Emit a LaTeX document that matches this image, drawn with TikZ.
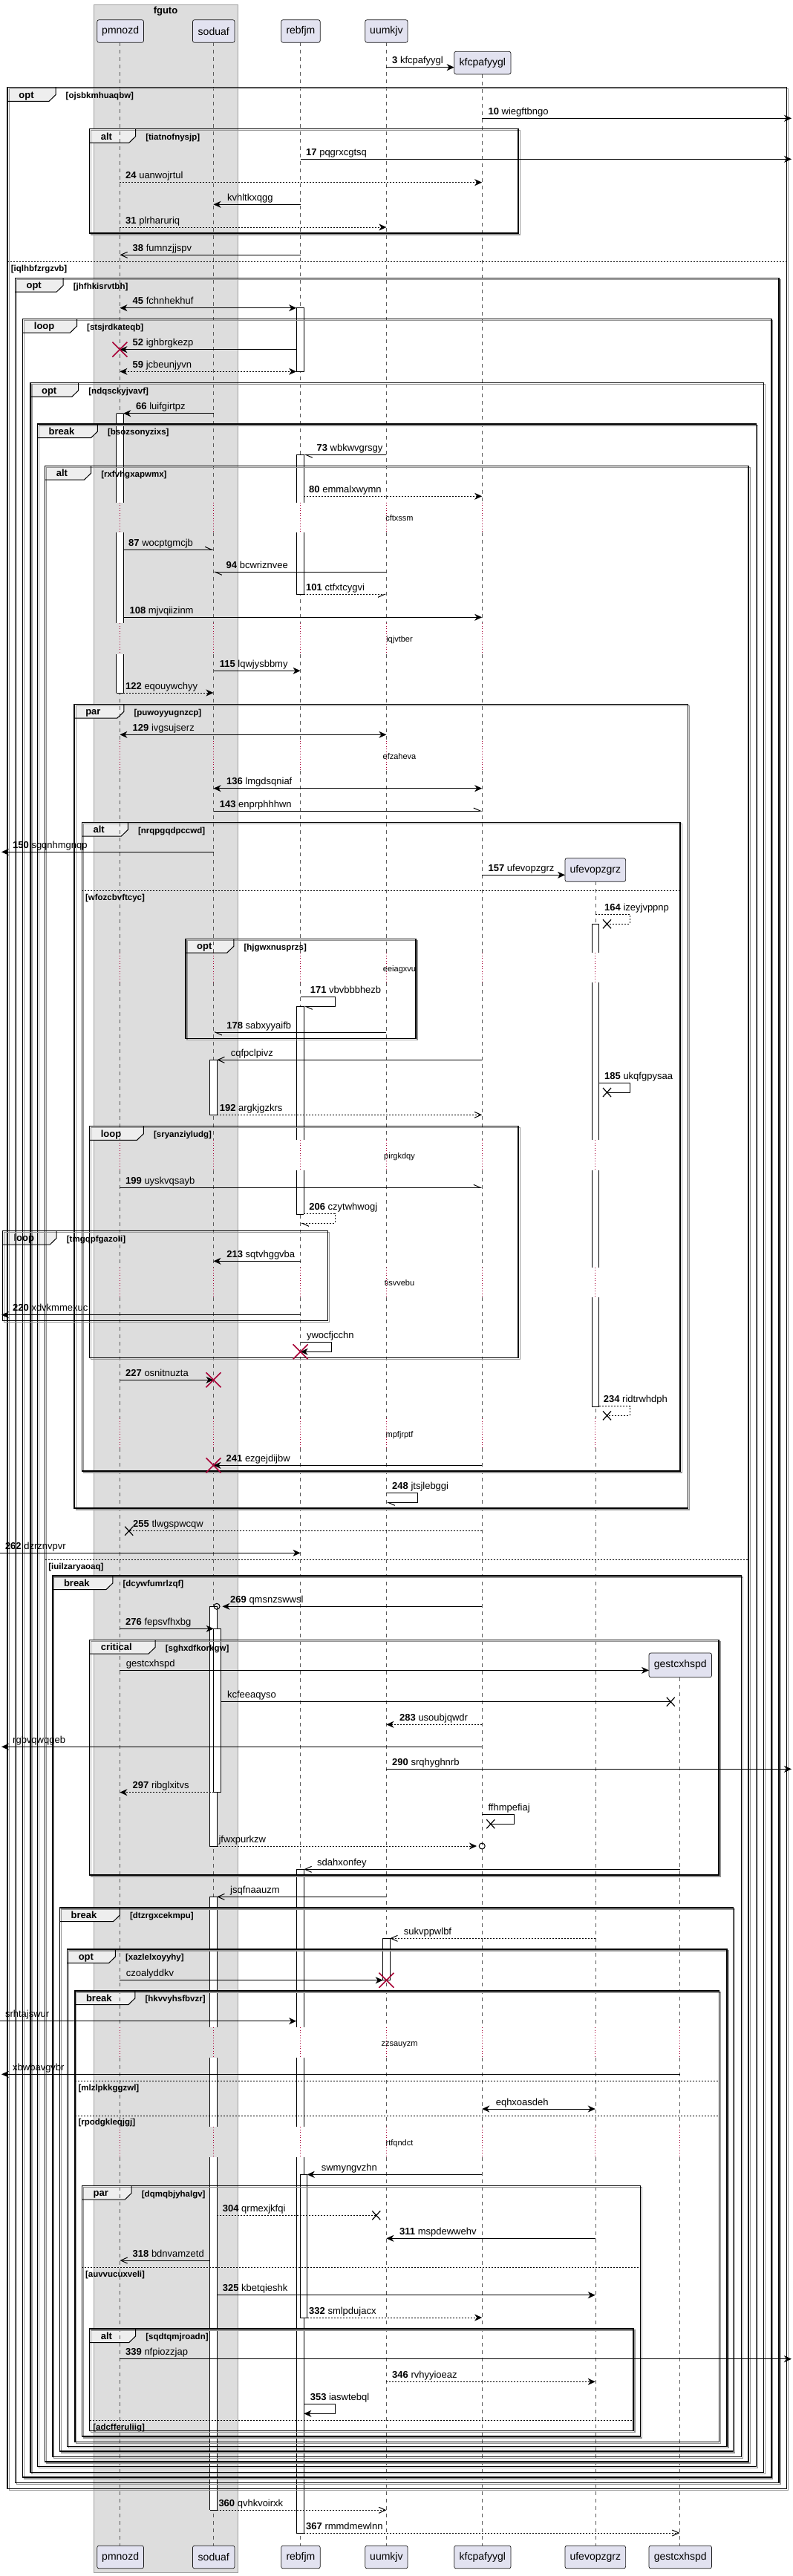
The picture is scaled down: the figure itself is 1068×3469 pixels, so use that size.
\documentclass[tikz,border=0pt]{standalone}
\usepackage{fontspec}
\setmainfont{Liberation Sans}
\usetikzlibrary{arrows.meta}
\definecolor{pfill}{RGB}{226,226,240}
\definecolor{pdraw}{RGB}{24,24,24}
\definecolor{gfill}{RGB}{221,221,221}
\definecolor{gdraw}{RGB}{160,160,160}
\definecolor{tfill}{RGB}{238,238,238}
\definecolor{dred}{RGB}{168,0,54}
\definecolor{lgray}{RGB}{90,90,90}
\definecolor{shad}{RGB}{150,150,150}
\newcommand\fsz[1]{\fontsize{#1}{#1}\selectfont}
\newcount\mcount
\tikzset{
  lifel/.style={draw=lgray,line width=0.6pt,dash pattern=on 5pt off 5pt},
  delayl/.style={draw=dred,line width=0.8pt,dash pattern=on 1pt off 2.5pt},
  actl/.style={draw=black,line width=0.8pt},
  ml/.style={draw=black,line width=1pt},
  dt/.style={dash pattern=on 2pt off 2pt},
  af/.style={-{Stealth[length=10pt,width=9pt,inset=3pt]}},
  ab/.style={{Stealth[length=10pt,width=9pt,inset=3pt]}-{Stealth[length=10pt,width=9pt,inset=3pt]}},
  ao/.style={-{Straight Barb[length=9pt,width=8pt]}},
  ahl/.style={-{Straight Barb[left,length=9pt,width=8pt]}},
  ahr/.style={-{Straight Barb[right,length=9pt,width=8pt]}},
  redx/.style={draw=dred,line width=1.6pt},
  blkx/.style={draw=black,line width=1.2pt},
  mlab/.style={inner sep=0pt,anchor=base west,font=\fsz{13}},
  clab/.style={inner sep=0pt,anchor=base west,font=\fsz{11.5}\bfseries},
  tlab/.style={inner sep=0pt,anchor=base west,font=\fsz{13}\bfseries},
  dlab/.style={inner sep=0pt,anchor=base,font=\fsz{11}},
  pbox/.style={draw=pdraw,fill=pfill,rounded corners=2.5pt,line width=0.7pt,inner sep=0pt,font=\fsz{14},minimum height=30.6pt},
  frl/.style={draw=black,line width=1.5pt},
  frs/.style={draw=shad,line width=1.2pt},
  elsel/.style={draw=black,line width=1pt,dash pattern=on 2pt off 2pt},
}
\newcommand\mlb[3]{\global\advance\mcount by 1\node[mlab] (m\the\mcount) at (#1,#2-5) {#3};}
\newcommand\redX[2]{\draw[redx] (#1-10,#2-10) -- (#1+10,#2+10) (#1-10,#2+10) -- (#1+10,#2-10);}
\newcommand\blkX[2]{\draw[blkx] (#1-5.5,#2-6) -- (#1+5.5,#2+6) (#1-5.5,#2+6) -- (#1+5.5,#2-6);}
\newcommand\actfull[4]{\filldraw[fill=white,actl] (#1,#3) rectangle (#2,#4);}
\newcommand\actseg[4]{\fill[white] (#1,#3) rectangle (#2,#4); \draw[actl] (#1,#3) -- (#1,#4) (#2,#3) -- (#2,#4);}
\newcommand\acthl[3]{\draw[actl] (#1,#3) -- (#2,#3);}
\newcommand\elsesep[4]{\draw[elsel] (#1,#3) -- (#2,#3);\global\advance\mcount by 1\node[clab] (e\the\mcount) at (#1+4.5,#3+12.7) {[#4]};}
\newcommand\grpframe[7]{}
\newcommand\framelist{%
\grpframe{10.2}{117.7}{1059.3}{3351.7}{opt}{64.8}{ojsbkmhuaqbw}%
\grpframe{120.6}{173.7}{698.2}{314}{alt}{62}{tiatnofnysjp}%
\grpframe{20.4}{374.3}{1049}{3343.3}{opt}{64.8}{jhfhkisrvtbh}%
\grpframe{30.7}{429.3}{1038.8}{3336}{loop}{72.8}{stsjrdkateqb}%
\grpframe{40.9}{515.7}{1028.6}{3329.3}{opt}{64.8}{ndqsckyjvavf}%
\grpframe{50.4}{571}{1018.4}{3321.7}{break}{81}{bsozsonyzixs}%
\grpframe{60.6}{627.3}{1008.2}{3315}{alt}{62}{rxfvhgxapwmx}%
\grpframe{100.1}{948.3}{926.4}{2031}{par}{66.8}{puwoyyugnzcp}%
\grpframe{110.4}{1107.3}{916.2}{1981}{alt}{62}{nrqpgqdpccwd}%
\grpframe{250}{1264.3}{560}{1398.7}{opt}{64.8}{hjgwxnusprzs}%
\grpframe{120.6}{1516.7}{698.2}{1828.3}{loop}{72.8}{sryanziyludg}%
\grpframe{3.4}{1657.3}{441.4}{1778.3}{loop}{72.8}{tmgqpfgazoli}%
\grpframe{70.8}{2122}{998.6}{3308.3}{break}{81}{dcywfumrlzqf}%
\grpframe{120.6}{2208.3}{968}{2525}{critical}{88.5}{sghxdfkorkgw}%
\grpframe{80.4}{2569}{987.7}{3301}{break}{81}{dtzrgxcekmpu}%
\grpframe{90.6}{2625}{978.9}{3294.7}{opt}{64.8}{xazlelxoyyhy}%
\grpframe{100.8}{2681}{968.7}{3288.7}{break}{81}{hkvvyhsfbvzr}%
\grpframe{110.4}{2943.3}{862.4}{3281}{par}{66.8}{dqmqbjyhalgv}%
\grpframe{120.6}{3136}{852.9}{3273.3}{alt}{62}{sqdtqmjroadn}%
}
\begin{document}
\begin{tikzpicture}[x=1pt,y=-1pt]
\useasboundingbox (0,0) rectangle (1068,3469);
\fill[white] (0,0) rectangle (1068,3469);
% box group
\filldraw[fill=gfill,draw=gdraw,line width=0.8pt] (126.7,6) rectangle (320.2,3464);
\node[font=\fsz{13}\bfseries,inner sep=0pt] (fg) at (223,15) {fguto};
% tab fills
\renewcommand\grpframe[7]{\fill[tfill] (#1,#2) -- (#1+#6,#2) -- (#1+#6,#2+10) -- (#1+#6-9,#2+18.7) -- (#1,#2+18.7) -- cycle;}
\framelist
% lifelines
\foreach \x/\t in {161.4/57.3,287.5/57.3,404.6/57.3,520.4/57.3,649.2/100}{
  \draw[lifel] (\x,\t) -- (\x,676.7) (\x,716.7) -- (\x,839.3) (\x,881) -- (\x,997.6) (\x,1038) -- (\x,1283.3);
  \draw[delayl] (\x,676.7) -- (\x,716.7) (\x,839.3) -- (\x,881) (\x,997.6) -- (\x,1038);
}
\draw[lifel] (801.8,1187.3) -- (801.8,1283.3);
\foreach \x in {161.4,287.5,404.6,520.4,649.2,801.8}{
  \draw[lifel] (\x,1323.3) -- (\x,1535) (\x,1576) -- (\x,1706.7) (\x,1746.7) -- (\x,1910) (\x,1950) -- (\x,2730);
  \draw[delayl] (\x,1283.3) -- (\x,1323.3) (\x,1535) -- (\x,1576) (\x,1706.7) -- (\x,1746.7) (\x,1910) -- (\x,1950);
}
\draw[lifel] (915.5,2258.7) -- (915.5,2730);
\foreach \x in {161.4,287.5,404.6,520.4,649.2,801.8,915.5}{
  \draw[lifel] (\x,2771) -- (\x,2864) (\x,2905) -- (\x,3428);
  \draw[delayl] (\x,2730) -- (\x,2771) (\x,2864) -- (\x,2905);
}
% delay texts
\node[dlab] (d1) at (538,701.8) {cftxssm};
\node[dlab] (d2) at (538,864.5) {iqjvtber};
\node[dlab] (d3) at (538,1022.8) {efzaheva};
\node[dlab] (d4) at (538,1308.5) {eeiagxvu};
\node[dlab] (d5) at (538,1560.2) {pirgkdqy};
\node[dlab] (d6) at (538,1731.8) {tisvvebu};
\node[dlab] (d7) at (538,1935.2) {mpfjrptf};
\node[dlab] (d8) at (538,2755.2) {zzsauyzm};
\node[dlab] (d9) at (538,2889.2) {rtfqndct};
% activations
\actfull{399.2}{409.4}{414.7}{500.7}
\actseg{156.7}{166.2}{556.7}{676.7}\actseg{156.7}{166.2}{716.7}{839.3}\actseg{156.7}{166.2}{881}{933}
\acthl{156.7}{166.2}{556.7}\acthl{156.7}{166.2}{933}
\actseg{399.2}{409.4}{612.3}{676.7}\actseg{399.2}{409.4}{716.7}{800.3}
\acthl{399.2}{409.4}{612.3}\acthl{399.2}{409.4}{800.3}
\actseg{797}{806.5}{1244.3}{1283.3}\actseg{797}{806.5}{1323.3}{1535}\actseg{797}{806.5}{1576}{1706.7}\actseg{797}{806.5}{1746.7}{1894}
\acthl{797}{806.5}{1244.3}\acthl{797}{806.5}{1894}
\actseg{399.2}{409.4}{1355.3}{1535}\actseg{399.2}{409.4}{1576}{1635}
\acthl{399.2}{409.4}{1355.3}\acthl{399.2}{409.4}{1635}
\actfull{282.7}{292.2}{1427.3}{1501.3}
\actfull{282.7}{292.2}{2163.3}{2486}
\actfull{287.7}{297.2}{2193.3}{2413.7}
\actseg{399.2}{409.4}{2517.3}{2730}\actseg{399.2}{409.4}{2771}{2864}\actseg{399.2}{409.4}{2905}{3411}
\acthl{399.2}{409.4}{2517.3}\acthl{399.2}{409.4}{3411}
\actseg{282.7}{292.2}{2554.3}{2730}\actseg{282.7}{292.2}{2771}{2864}\actseg{282.7}{292.2}{2905}{3380.3}
\acthl{282.7}{292.2}{2554.3}\acthl{282.7}{292.2}{3380.3}
\actfull{515.7}{525.2}{2610.3}{2666.7}
\actfull{404.2}{413.7}{2928.3}{3121}
% frames
\renewcommand\grpframe[7]{%
  \draw[frs] (#1+2,#2+2) rectangle (#3+2,#4+2);
  \draw[frl] (#1,#2) rectangle (#3,#4);
  \draw[draw=black,line width=1pt] (#1+#6,#2) -- (#1+#6,#2+10) -- (#1+#6-9,#2+18.7) -- (#1,#2+18.7);
  \global\advance\mcount by 1
  \node[tlab] (t\the\mcount) at (#1+15,#2+14.5) {#5};
  \node[clab] (c\the\mcount) at (#1+#6+13.5,#2+14.7) {[#7]};}
\framelist
\elsesep{10.2}{1059.3}{352.3}{iqlhbfzrgzvb}
\elsesep{60.6}{1008.2}{2100.3}{iuilzaryaoaq}
\elsesep{110.4}{916.2}{1199.3}{wfozcbvftcyc}
\elsesep{100.8}{968.7}{2802.3}{mlzlpkkggzwl}
\elsesep{100.8}{968.7}{2849}{rpodgkleqjgj}
\elsesep{110.4}{862.4}{3053.3}{auvvucuxveli}
\elsesep{120.6}{852.9}{3259.3}{adcfferuliig}
% participants
\node[pbox,minimum width=62.7pt] (pmT) at (162.15,42) {pmnozd};
\node[pbox,minimum width=56.5pt] (soT) at (287.75,42) {soduaf};
\node[pbox,minimum width=52.5pt] (reT) at (404.95,42) {rebfjm};
\node[pbox,minimum width=57.2pt] (uuT) at (520.4,42) {uumkjv};
\node[pbox,minimum width=76.3pt] (kfT) at (649.85,84.65) {kfcpafyygl};
\node[pbox,minimum width=81.6pt,minimum height=31.6pt] (ufT) at (801.8,1171.5) {ufevopzgrz};
\node[pbox,minimum width=84.5pt,minimum height=32.7pt] (geT) at (916.25,2242.35) {gestcxhspd};
\node[pbox,minimum width=62.7pt] (pmB) at (162.15,3443.5) {pmnozd};
\node[pbox,minimum width=56.5pt] (soB) at (287.75,3443.5) {soduaf};
\node[pbox,minimum width=52.5pt] (reB) at (404.95,3443.5) {rebfjm};
\node[pbox,minimum width=57.2pt] (uuB) at (520.4,3443.5) {uumkjv};
\node[pbox,minimum width=76.3pt] (kfB) at (649.85,3443.5) {kfcpafyygl};
\node[pbox,minimum width=81.6pt] (ufB) at (801.8,3443.5) {ufevopzgrz};
\node[pbox,minimum width=84.5pt] (geB) at (916.25,3443.5) {gestcxhspd};
% messages
\draw[ml,af] (520.4,90.7) -- (611.7,90.7);
\mlb{528}{90.7}{\textbf{3} kfcpafyygl}
\draw[ml,af] (649.2,159.3) -- (1066,159.3);
\mlb{657.4}{159.3}{\textbf{10} wiegftbngo}
\draw[ml,af] (404.6,214.3) -- (1066,214.3);
\mlb{412}{214.3}{\textbf{17} pqgrxcgtsq}
\draw[ml,dt,af] (161.4,245.7) -- (649.2,245.7);
\mlb{169}{245.7}{\textbf{24} uanwojrtul}
\draw[ml,af] (404.6,275.3) -- (287.5,275.3);
\mlb{305.9}{275.3}{kvhltkxqgg}
\draw[ml,dt,af] (161.4,306) -- (520.4,306);
\mlb{169}{306}{\textbf{31} plrharuriq}
\draw[ml,ao] (404.6,343.3) -- (161.4,343.3);
\mlb{178.5}{343.3}{\textbf{38} fumnzjjspv}
\draw[ml,ab] (161.4,414.7) -- (399.2,414.7);
\mlb{178.5}{414.7}{\textbf{45} fchnhekhuf}
\draw[ml,af] (399.2,470.7) -- (161.4,470.7);
\redX{161.4}{470.7}
\mlb{178.5}{470.7}{\textbf{52} ighbrgkezp}
\draw[ml,dt,ab] (161.4,500.3) -- (399.2,500.3);
\mlb{178.5}{500.3}{\textbf{59} jcbeunjyvn}
\draw[ml,af] (287.5,556.7) -- (166.2,556.7);
\mlb{183}{556.7}{\textbf{66} luifgirtpz}
\draw[ml,ahl] (520.4,612.3) -- (409.4,612.3);
\mlb{426.4}{612.3}{\textbf{73} wbkwvgrsgy}
\draw[ml,dt,af] (409.4,668.3) -- (649.2,668.3);
\mlb{416}{668.3}{\textbf{80} emmalxwymn}
\draw[ml,ahl] (166.2,740.3) -- (287.5,740.3);
\mlb{173}{740.3}{\textbf{87} wocptgmcjb}
\draw[ml,ahl] (520.4,770.3) -- (287.5,770.3);
\mlb{304.5}{770.3}{\textbf{94} bcwriznvee}
\draw[ml,dt,ahr] (409.4,800.3) -- (520.4,800.3);
\mlb{412}{800.3}{\textbf{101} ctfxtcygvi}
\draw[ml,af] (166.2,831.3) -- (649.2,831.3);
\mlb{174.4}{831.3}{\textbf{108} mjvqiizinm}
\draw[ml,af] (287.5,903.3) -- (404.6,903.3);
\mlb{295.6}{903.3}{\textbf{115} lqwjysbbmy}
\draw[ml,dt,af] (166.2,933) -- (287.5,933);
\mlb{169}{933}{\textbf{122} eqouywchyy}
\draw[ml,ab] (161.4,989.3) -- (520.4,989.3);
\mlb{178.5}{989.3}{\textbf{129} ivgsujserz}
\draw[ml,ab] (287.5,1061.7) -- (649.2,1061.7);
\mlb{305}{1061.7}{\textbf{136} lmgdsqniaf}
\draw[ml,ahl] (287.5,1092) -- (649.2,1092);
\mlb{295.6}{1092}{\textbf{143} enprphhhwn}
\draw[ml,af] (287.5,1147.3) -- (2,1147.3);
\mlb{17}{1147.3}{\textbf{150} sgqnhmgnqp}
\draw[ml,af] (649.2,1178.3) -- (761,1178.3);
\mlb{657.4}{1178.3}{\textbf{157} ufevopzgrz}
\draw[ml,dt] (801.8,1231.3) -- (848,1231.3) -- (848,1244.3) -- (817.5,1244.3);
\blkX{817.5}{1244.3}
\mlb{814}{1231.3}{\textbf{164} izeyjvppnp}
\draw[ml,ahl] (404.6,1342.7) -- (451,1342.7) -- (451,1355.3) -- (409.4,1355.3);
\mlb{417.6}{1342.7}{\textbf{171} vbvbbbhezb}
\draw[ml,ahl] (520.4,1390) -- (287.5,1390);
\mlb{305.2}{1390}{\textbf{178} sabxyyaifb}
\draw[ml,ao] (649.2,1427.3) -- (292.2,1427.3);
\mlb{310.6}{1427.3}{cqfpclpivz}
\draw[ml] (806.5,1458.3) -- (848,1458.3) -- (848,1471) -- (817.5,1471);
\blkX{817.5}{1471}
\mlb{814}{1458.3}{\textbf{185} ukqfgpysaa}
\draw[ml,dt,ao] (292.2,1501.3) -- (649.2,1501.3);
\mlb{295.6}{1501.3}{\textbf{192} argkjgzkrs}
\draw[ml,ahl] (161.4,1599.3) -- (649.2,1599.3);
\mlb{169}{1599.3}{\textbf{199} uyskvqsayb}
\draw[ml,dt,ahl] (409.4,1634) -- (451,1634) -- (451,1647.3) -- (404.6,1647.3);
\mlb{416.2}{1634}{\textbf{206} czytwhwogj}
\draw[ml,af] (404.6,1698.3) -- (287.5,1698.3);
\mlb{305.2}{1698.3}{\textbf{213} sqtvhggvba}
\draw[ml,af] (404.6,1770.7) -- (2,1770.7);
\mlb{17}{1770.7}{\textbf{220} xdvkmmexuc}
\draw[ml,af] (404.6,1807.7) -- (446.2,1807.7) -- (446.2,1820.3) -- (404.6,1820.3);
\redX{404.6}{1820.3}
\mlb{412.8}{1807.7}{ywocfjcchn}
\draw[ml,af] (161.4,1858.3) -- (287.5,1858.3);
\redX{287.5}{1858.3}
\mlb{169}{1858.3}{\textbf{227} osnitnuzta}
\draw[ml,dt] (806.5,1893.7) -- (848,1893.7) -- (848,1906.3) -- (817.5,1906.3);
\blkX{817.5}{1906.3}
\mlb{812.7}{1893.7}{\textbf{234} ridtrwhdph}
\draw[ml,af] (649.2,1973.3) -- (287.5,1973.3);
\redX{287.5}{1973.3}
\mlb{304.5}{1973.3}{\textbf{241} ezgejdijbw}
\draw[ml,ahl] (520.4,2010.7) -- (562.7,2010.7) -- (562.7,2023.3) -- (520.4,2023.3);
\mlb{528}{2010.7}{\textbf{248} jtsjlebggi}
\draw[ml,dt] (649.2,2061.7) -- (173.7,2061.7);
\blkX{173.7}{2061.7}
\mlb{179}{2061.7}{\textbf{255} tlwgspwcqw}
\draw[ml,af] (0,2091.3) -- (404.6,2091.3);
\mlb{6.8}{2091.3}{\textbf{262} dzrznvpvr}
\draw[ml,af] (649.2,2163.3) -- (299.5,2163.3);
\draw[line width=1pt] (292,2163.3) circle (4pt);
\mlb{310}{2163.3}{\textbf{269} qmsnzswwsl}
\draw[ml,af] (161.4,2193.3) -- (287.7,2193.3);
\mlb{169}{2193.3}{\textbf{276} fepsvfhxbg}
\draw[ml,af] (161.4,2249.3) -- (874,2249.3);
\mlb{169.6}{2249.3}{gestcxhspd}
\draw[ml] (297.2,2291.7) -- (903.3,2291.7);
\blkX{903.3}{2291.7}
\mlb{305.9}{2291.7}{kcfeeaqyso}
\draw[ml,dt,af] (649.2,2322.3) -- (520.4,2322.3);
\mlb{538}{2322.3}{\textbf{283} usoubjqwdr}
\draw[ml,af] (649.2,2352.3) -- (2,2352.3);
\mlb{17}{2352.3}{rgbvqwqgeb}
\draw[ml,af] (520.4,2382.3) -- (1066,2382.3);
\mlb{528}{2382.3}{\textbf{290} srqhyghnrb}
\draw[ml,dt,af] (287.7,2413.7) -- (161.4,2413.7);
\mlb{178.5}{2413.7}{\textbf{297} ribglxitvs}
\draw[ml] (649.2,2443.7) -- (692,2443.7) -- (692,2456.3) -- (660.8,2456.3);
\blkX{660.8}{2456.3}
\mlb{657.4}{2443.7}{ffhmpefiaj}
\draw[ml,dt,af] (292.2,2486) -- (642,2486);
\draw[line width=1pt] (649.2,2486) circle (4pt);
\mlb{294.3}{2486}{jfwxpurkzw}
\draw[ml,ao] (915.5,2517.3) -- (409.4,2517.3);
\mlb{427}{2517.3}{sdahxonfey}
\draw[ml,ao] (520.4,2554.3) -- (292.2,2554.3);
\mlb{310}{2554.3}{jsqfnaauzm}
\draw[ml,dt,ao] (801.8,2610.3) -- (525.2,2610.3);
\mlb{543.6}{2610.3}{sukvppwlbf}
\draw[ml,af] (161.4,2666.7) -- (515.7,2666.7);
\redX{520.4}{2666.7}
\mlb{169.6}{2666.7}{czoalyddkv}
\draw[ml,af] (0,2721.7) -- (399.2,2721.7);
\mlb{6.8}{2721.7}{srhtajswur}
\draw[ml,af] (915.5,2793.3) -- (2,2793.3);
\mlb{17}{2793.3}{xbwbavgvbr}
\draw[ml,ab] (649.2,2840) -- (801.8,2840);
\mlb{667.6}{2840}{eqhxoasdeh}
\draw[ml,af] (649.2,2928.3) -- (413.7,2928.3);
\mlb{432.6}{2928.3}{swmyngvzhn}
\draw[ml,dt] (292.2,2983.3) -- (506.8,2983.3);
\blkX{506.8}{2983.3}
\mlb{299.7}{2983.3}{\textbf{304} qrmexjkfqi}
\draw[ml,af] (801.8,3014.3) -- (520.4,3014.3);
\mlb{538}{3014.3}{\textbf{311} mspdewwehv}
\draw[ml,ao] (282.7,3044) -- (161.4,3044);
\mlb{178.5}{3044}{\textbf{318} bdnvamzetd}
\draw[ml,af] (292.2,3090.7) -- (801.8,3090.7);
\mlb{299.7}{3090.7}{\textbf{325} kbetqieshk}
\draw[ml,dt,af] (413.7,3121) -- (649.2,3121);
\mlb{416}{3121}{\textbf{332} smlpdujacx}
\draw[ml,af] (161.4,3176.7) -- (1066,3176.7);
\mlb{169}{3176.7}{\textbf{339} nfpiozzjap}
\draw[ml,dt,af] (520.4,3207.3) -- (801.8,3207.3);
\mlb{528}{3207.3}{\textbf{346} rvhyyioeaz}
\draw[ml,af] (409.4,3237.7) -- (451,3237.7) -- (451,3250.3) -- (409.4,3250.3);
\mlb{417.6}{3237.7}{\textbf{353} iaswtebql}
\draw[ml,dt,ao] (292.2,3380.3) -- (520.4,3380.3);
\mlb{294.3}{3380.3}{\textbf{360} qvhkvoirxk}
\draw[ml,dt,ao] (409.4,3411) -- (915.5,3411);
\mlb{412}{3411}{\textbf{367} rmmdmewlnn}
\end{tikzpicture}
\end{document}
